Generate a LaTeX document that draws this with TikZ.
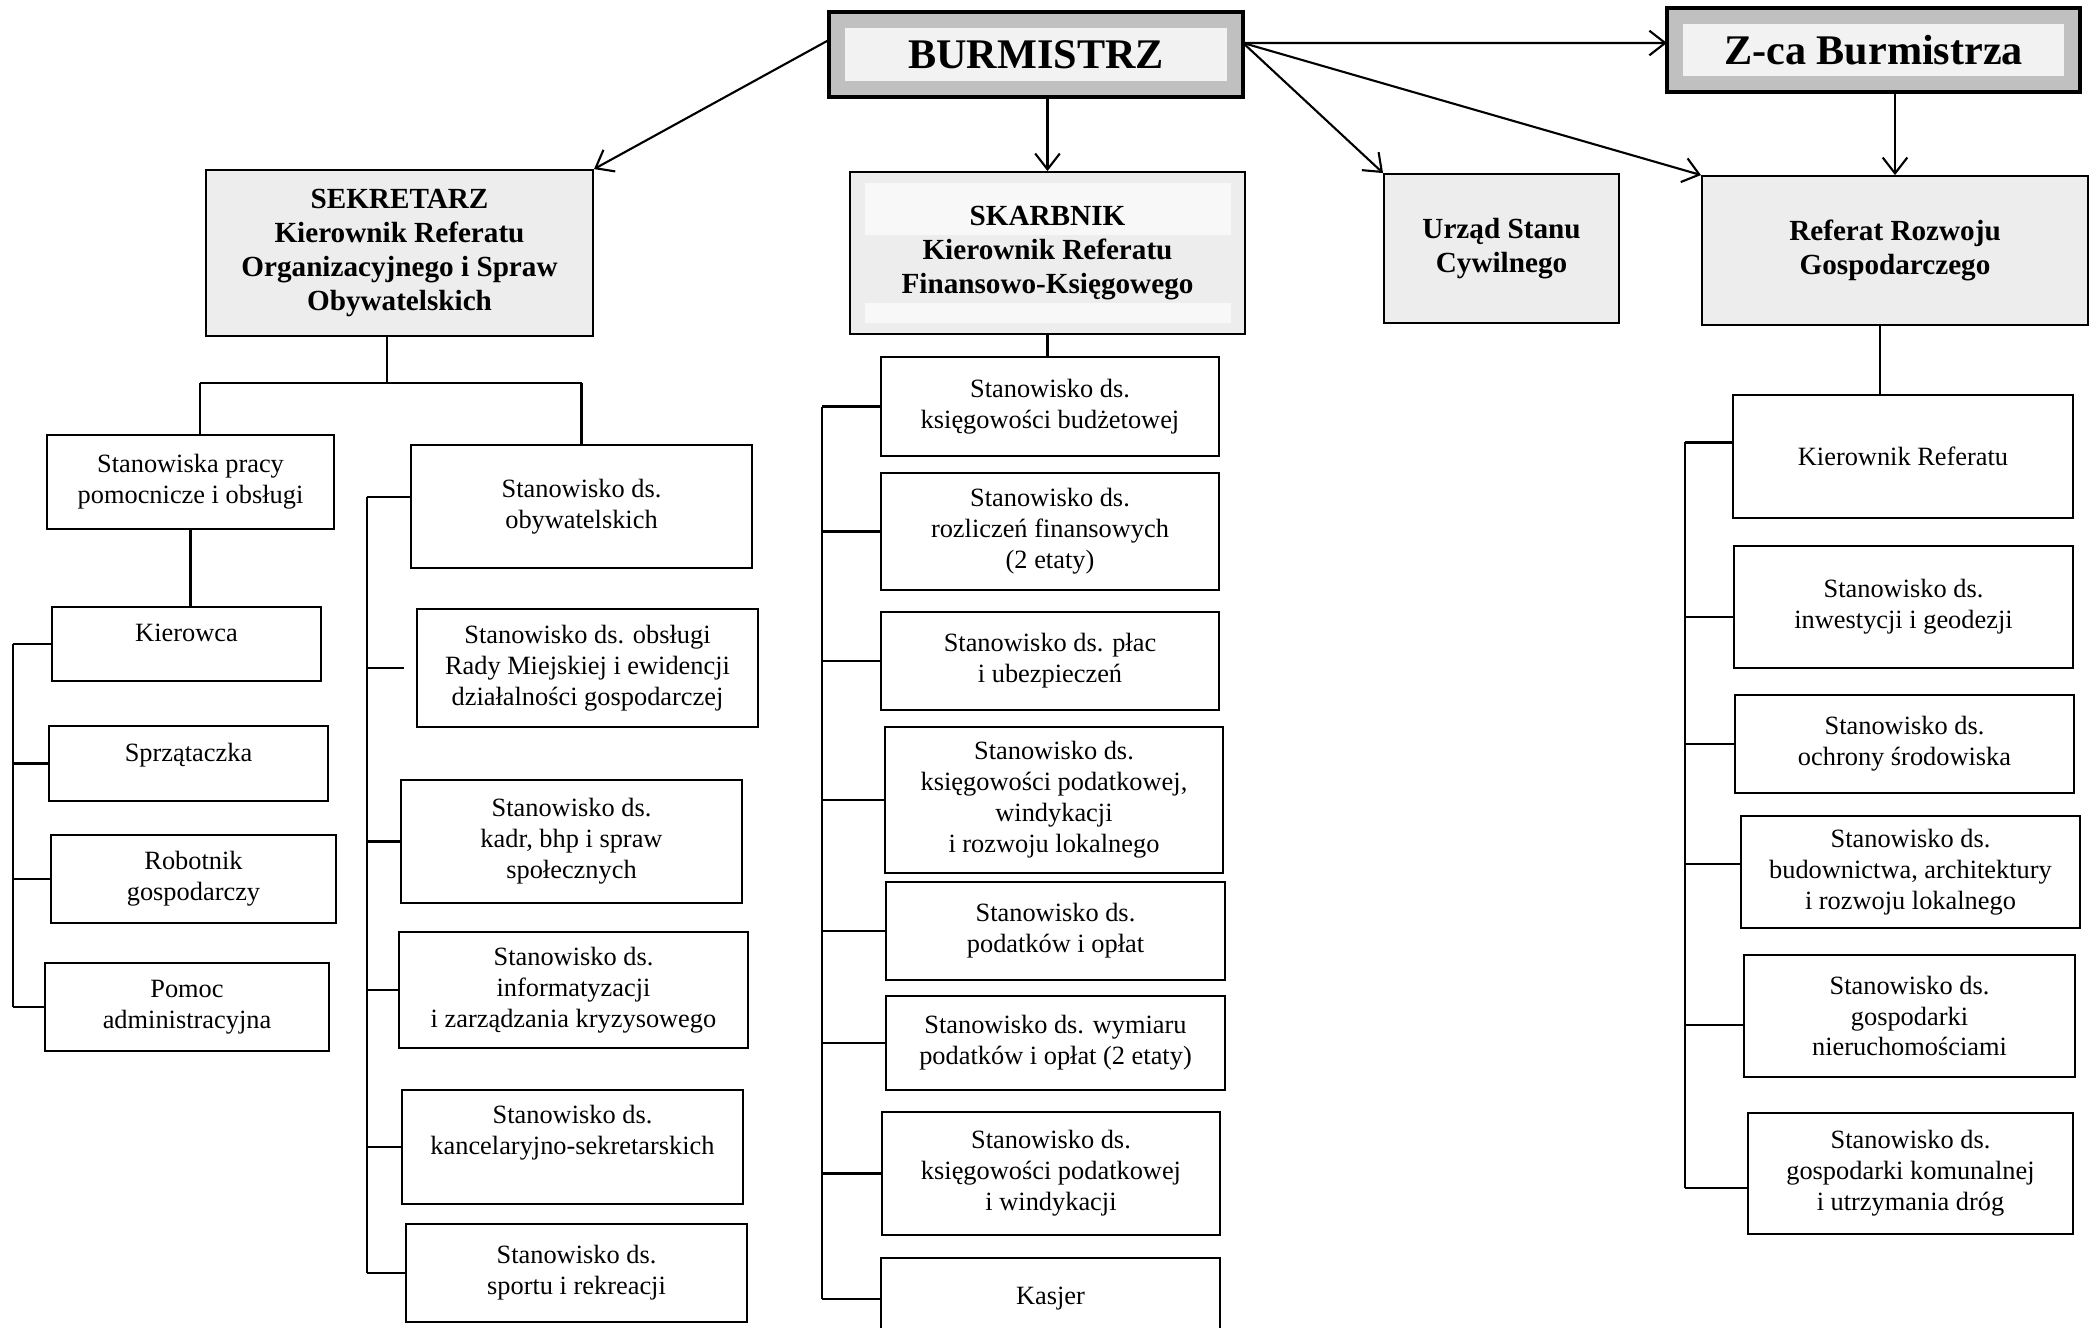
\documentclass[tikz,border=0pt]{standalone}
\usepackage{fontspec}
\setmainfont{Liberation Serif}
\usetikzlibrary{positioning, arrows.meta}

\definecolor{boxgray}{HTML}{EDEDED}
\definecolor{bandgray}{HTML}{C0C0C0}
\definecolor{innergray}{HTML}{F2F2F2}
\definecolor{palegray}{HTML}{F8F8F8}

\begin{document}
\begin{tikzpicture}[x=0.01cm, y=-0.01cm,
    post/.style={draw, align=center, inner sep=1pt, line width=0.5pt, font=\fontsize{7.5}{8.8}\selectfont},
    head/.style={draw, align=center, inner sep=1pt, line width=0.5pt, fill=boxgray, font=\fontsize{8.3}{9.6}\selectfont\bfseries},
    chief/.style={draw=bandgray, line width=0.16cm, fill=innergray, font=\fontsize{12}{14}\selectfont\bfseries},
    wire/.style={line width=0.6pt},
    arr/.style={line width=0.6pt, -{Straight Barb[length=4.5pt,width=7pt]}},
    liftup/.style={text depth=#1}]

    \fill[white] (0,0) rectangle (2100,1327);
    \useasboundingbox (0,0) rectangle (2100,1327);

    % Define the heads (top level)
    \node[chief, minimum width=3.98cm, minimum height=0.69cm] (burm) at (1036,54.5) {BURMISTRZ};
    \node[chief, minimum width=3.97cm, minimum height=0.68cm] (zca) at (1873.5,50) {Z-ca Burmistrza};
    \draw[line width=1pt] (burm.north west) rectangle (burm.south east);
    \draw[line width=1pt] (zca.north west) rectangle (zca.south east);

    % Define the departments
    \node[head, minimum width=3.87cm, minimum height=1.66cm] (sekr) at (399.5,253) {SEKRETARZ\\Kierownik Referatu\\Organizacyjnego i Spraw\\Obywatelskich};
    \node[head, minimum width=3.95cm, minimum height=1.62cm,
        path picture={
            \fill[palegray] ([shift={(15,11)}]path picture bounding box.north west) rectangle ([shift={(-14,63)}]path picture bounding box.north east);
            \fill[palegray] ([shift={(15,131)}]path picture bounding box.north west) rectangle ([shift={(-14,151)}]path picture bounding box.north east);
        }] (skarb) at (1047.5,253) {SKARBNIK\\Kierownik Referatu\\Finansowo-Księgowego};
    \node[head, minimum width=2.35cm, minimum height=1.49cm] (urzad) at (1501.5,248.5) {Urząd Stanu\\Cywilnego};
    \node[head, minimum width=3.86cm, minimum height=1.49cm] (refer) at (1895,250.5) {Referat Rozwoju\\Gospodarczego};

    % Sekretarz: posts
    \node[post, minimum width=2.87cm, minimum height=0.94cm] (pracy) at (190.5,482) {Stanowiska pracy\\pomocnicze i obsługi};
    \node[post, liftup=6.2pt, minimum width=2.69cm, minimum height=0.74cm] (kier) at (186.5,644) {Kierowca};
    \node[post, liftup=6.4pt, minimum width=2.79cm, minimum height=0.75cm] (sprz) at (188.5,763.5) {Sprzątaczka};
    \node[post, minimum width=2.85cm, minimum height=0.88cm] (robot) at (193.5,879) {Robotnik\\gospodarczy};
    \node[post, minimum width=2.84cm, minimum height=0.88cm] (pomoc) at (187,1007) {Pomoc\\administracyjna};

    \node[post, minimum width=3.41cm, minimum height=1.23cm] (obyw) at (581.5,506.5) {Stanowisko ds.\\obywatelskich};
    \node[post, minimum width=3.41cm, minimum height=1.18cm] (rady) at (587.5,668) {Stanowisko ds. obsługi\\Rady Miejskiej i ewidencji\\działalności gospodarczej};
    \node[post, minimum width=3.41cm, minimum height=1.23cm] (kadr) at (571.5,841.5) {Stanowisko ds.\\kadr, bhp i spraw\\społecznych};
    \node[post, minimum width=3.49cm, minimum height=1.16cm] (info) at (573.5,990) {Stanowisko ds.\\informatyzacji\\i zarządzania kryzysowego};
    \node[post, liftup=10pt, minimum width=3.41cm, minimum height=1.14cm] (kanc) at (572.5,1147) {Stanowisko ds.\\kancelaryjno-sekretarskich};
    \node[post, minimum width=3.41cm, minimum height=0.98cm] (sport) at (576.5,1273) {Stanowisko ds.\\sportu i rekreacji};

    % Skarbnik: posts
    \node[post, minimum width=3.38cm, minimum height=0.99cm] (budz) at (1050,406.5) {Stanowisko ds.\\księgowości budżetowej};
    \node[post, minimum width=3.38cm, minimum height=1.17cm] (rozl) at (1050,531.5) {Stanowisko ds.\\rozliczeń finansowych\\(2 etaty)};
    \node[post, minimum width=3.38cm, minimum height=0.98cm] (plac) at (1050,661) {Stanowisko ds. płac\\i ubezpieczeń};
    \node[post, minimum width=3.38cm, minimum height=1.46cm] (kpw) at (1054,800) {Stanowisko ds.\\księgowości podatkowej,\\windykacji\\i rozwoju lokalnego};
    \node[post, minimum width=3.39cm, minimum height=0.98cm] (pod) at (1055.5,931) {Stanowisko ds.\\podatków i opłat};
    \node[post, minimum width=3.39cm, minimum height=0.94cm] (wym) at (1055.5,1043) {Stanowisko ds. wymiaru\\podatków i opłat (2 etaty)};
    \node[post, minimum width=3.38cm, minimum height=1.23cm] (kpi) at (1051,1173.5) {Stanowisko ds.\\księgowości podatkowej\\i windykacji};
    \node[post, minimum width=3.39cm, minimum height=0.82cm] (kasj) at (1050.5,1299) {Kasjer};

    % Referat Rozwoju: posts
    \node[post, minimum width=3.40cm, minimum height=1.23cm] (kref) at (1903,456.5) {Kierownik Referatu};
    \node[post, minimum width=3.39cm, minimum height=1.22cm] (inw) at (1903.5,607) {Stanowisko ds.\\inwestycji i geodezji};
    \node[post, minimum width=3.39cm, minimum height=0.98cm] (ochr) at (1904.5,744) {Stanowisko ds.\\ochrony środowiska};
    \node[post, minimum width=3.39cm, minimum height=1.12cm] (bud) at (1910.5,872) {Stanowisko ds.\\budownictwa, architektury\\i rozwoju lokalnego};
    \node[post, minimum width=3.31cm, minimum height=1.22cm] (nier) at (1909.5,1016) {Stanowisko ds.\\gospodarki\\nieruchomościami};
    \node[post, minimum width=3.25cm, minimum height=1.21cm] (kom) at (1910.5,1173.5) {Stanowisko ds.\\gospodarki komunalnej\\i utrzymania dróg};

    % Define the arrows from the heads
    \coordinate (bE) at ([yshift=0.115cm]burm.east);
    \path[arr]
    ([yshift=0.145cm]burm.west) edge (sekr.north east)
    (bE) edge ([yshift=0.07cm]zca.west)
    (burm.south -| skarb.north) edge (skarb.north)
    (bE) edge (urzad.north west)
    (bE) edge (refer.north west)
    (zca.south -| refer.north) edge (refer.north);

    % Spine coordinates
    \coordinate (sjL) at (200,383);
    \coordinate (sjM) at (387,383);
    \coordinate (sjR) at (581.5,383);
    \coordinate (spA) at (13,0);
    \coordinate (spB) at (367,0);
    \coordinate (spC) at (822,0);
    \coordinate (spD) at (1685,0);
    \coordinate (oS) at ([yshift=0.095cm]obyw.west);
    \coordinate (krS) at ([yshift=0.14cm]kref.west);
    \coordinate (inS) at ([yshift=-0.1cm]inw.west);
    \coordinate (buS) at ([yshift=0.08cm]bud.west);
    \coordinate (niS) at ([yshift=-0.09cm]nier.west);
    \coordinate (koS) at ([yshift=-0.145cm]kom.west);

    % Sekretarz tree
    \path[wire]
    (sjM |- sekr.south) edge (sjM)
    (sjL) edge (sjR)
    (sjL) edge (sjL |- pracy.north)
    (sjR) edge (obyw.north)
    (pracy.south) edge (pracy.south |- kier.north)
    (kier.west) edge (kier.west -| spA)
    (sprz.west) edge (sprz.west -| spA)
    (robot.west) edge (robot.west -| spA)
    (pomoc.west) edge (pomoc.west -| spA)
    (kier.west -| spA) edge (pomoc.west -| spA)
    (oS) edge (oS -| spB)
    (rady.west -| spB) edge[shorten >=0.12cm] (rady.west)
    (kadr.west) edge (kadr.west -| spB)
    (info.west) edge (info.west -| spB)
    (kanc.west) edge (kanc.west -| spB)
    (sport.west) edge (sport.west -| spB)
    (oS -| spB) edge (sport.west -| spB);

    % Skarbnik tree
    \path[wire]
    (skarb.south) edge (skarb.south |- budz.north)
    (budz.west) edge (budz.west -| spC)
    (rozl.west) edge (rozl.west -| spC)
    (plac.west) edge (plac.west -| spC)
    (kpw.west) edge (kpw.west -| spC)
    (pod.west) edge (pod.west -| spC)
    (wym.west) edge (wym.west -| spC)
    (kpi.west) edge (kpi.west -| spC)
    (kasj.west) edge (kasj.west -| spC)
    (budz.west -| spC) edge (kasj.west -| spC);

    % Referat Rozwoju tree
    \path[wire]
    ([xshift=-0.15cm]refer.south) edge ([xshift=-0.15cm]refer.south |- kref.north)
    (krS) edge (krS -| spD)
    (inS) edge (inS -| spD)
    (ochr.west) edge (ochr.west -| spD)
    (buS) edge (buS -| spD)
    (niS) edge (niS -| spD)
    (koS) edge (koS -| spD)
    (krS -| spD) edge (koS -| spD);

\end{tikzpicture}
\end{document}
